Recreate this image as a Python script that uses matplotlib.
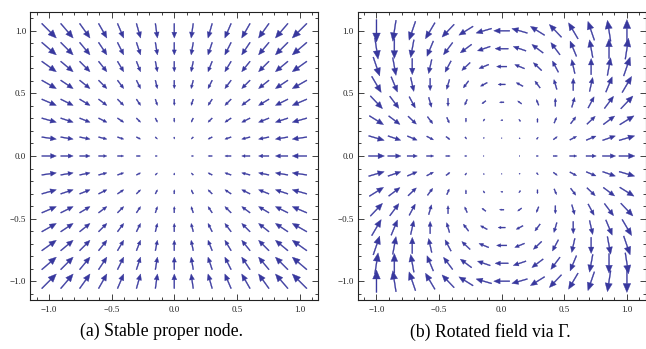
import numpy as np
import matplotlib
matplotlib.use("Agg")
import matplotlib.pyplot as plt
from matplotlib.ticker import FixedLocator, FuncFormatter

# ---- data ----
grid_pts = [-1, -6/7, -5/7, -4/7, -3/7, -2/7, -1/7, 0, 1/7, 2/7, 3/7, 4/7, 5/7, 6/7, 1]
major_ticks = [-1.0, -0.5, 0.0, 0.5, 1.0]
minor_ticks = [-1.1, -1.0, -0.9, -0.8, -0.7, -0.6, -0.5, -0.4, -0.3, -0.2, -0.1, 0.0,
               0.1, 0.2, 0.3, 0.4, 0.5, 0.6, 0.7, 0.8, 0.9, 1.0, 1.1]
captions = ["(a) Stable proper node.", "(b) Rotated field via \u0393."]

X, Y = np.meshgrid(np.array(grid_pts), np.array(grid_pts))
# stable proper node: x' = -x, y' = -y
node_u = -X
node_v = -Y
# rotated field
rot_u = X**2 - Y**2
rot_v = 2 * X * Y

ARROW_COLOR = "#38389e"
PX_PER_UNIT = 288 / 2.3

plt.rcParams["font.family"] = ["Liberation Serif", "DejaVu Serif"]

fig = plt.figure(figsize=(6.46, 3.49), dpi=100)
ax1 = fig.add_axes([30.3 / 646, 49 / 349, 288 / 646, 288 / 349])
ax2 = fig.add_axes([357.7 / 646, 49 / 349, 288 / 646, 288 / 349])


def draw_field(ax, U, V, lenfun):
    M = np.hypot(U, V)
    for i in range(U.shape[0]):
        for j in range(U.shape[1]):
            m = M[i, j]
            if m < 1e-12:
                continue
            L = lenfun(m) / PX_PER_UNIT
            dx = U[i, j] / m * L
            dy = V[i, j] / m * L
            x0 = X[i, j] - dx / 2
            y0 = Y[i, j] - dy / 2
            ax.arrow(x0, y0, dx, dy, width=0.008, head_width=0.34 * L,
                     head_length=0.40 * L, length_includes_head=True,
                     fc=ARROW_COLOR, ec=ARROW_COLOR, lw=0.25)


draw_field(ax1, node_u, node_v, lambda m: 14.6 * m)
draw_field(ax2, rot_u, rot_v, lambda m: 27.7 * m / (1 + 0.73 * m))

fmt = FuncFormatter(lambda v, p: f"{v:.1f}".replace("-", "\u2212"))
for ax in (ax1, ax2):
    ax.set_xlim(-1.15, 1.15)
    ax.set_ylim(-1.15, 1.15)
    for axis in (ax.xaxis, ax.yaxis):
        axis.set_major_locator(FixedLocator(major_ticks))
        axis.set_minor_locator(FixedLocator(minor_ticks))
        axis.set_major_formatter(fmt)
    ax.tick_params(which="both", direction="in", top=True, right=True,
                   labelsize=6.5, width=0.6, colors="#222222")
    ax.tick_params(which="major", length=4)
    ax.tick_params(which="minor", length=2)
    ax.tick_params(axis="x", pad=4.5)
    ax.tick_params(axis="y", pad=3)
    for s in ax.spines.values():
        s.set_linewidth(0.8)
        s.set_color("#222222")

fig.text(161 / 646, 0.05, captions[0], ha="center", va="center", fontsize=12.8)
fig.text(490 / 646, 0.05, captions[1], ha="center", va="center", fontsize=12.8)

fig.savefig("out.png", dpi=100)
